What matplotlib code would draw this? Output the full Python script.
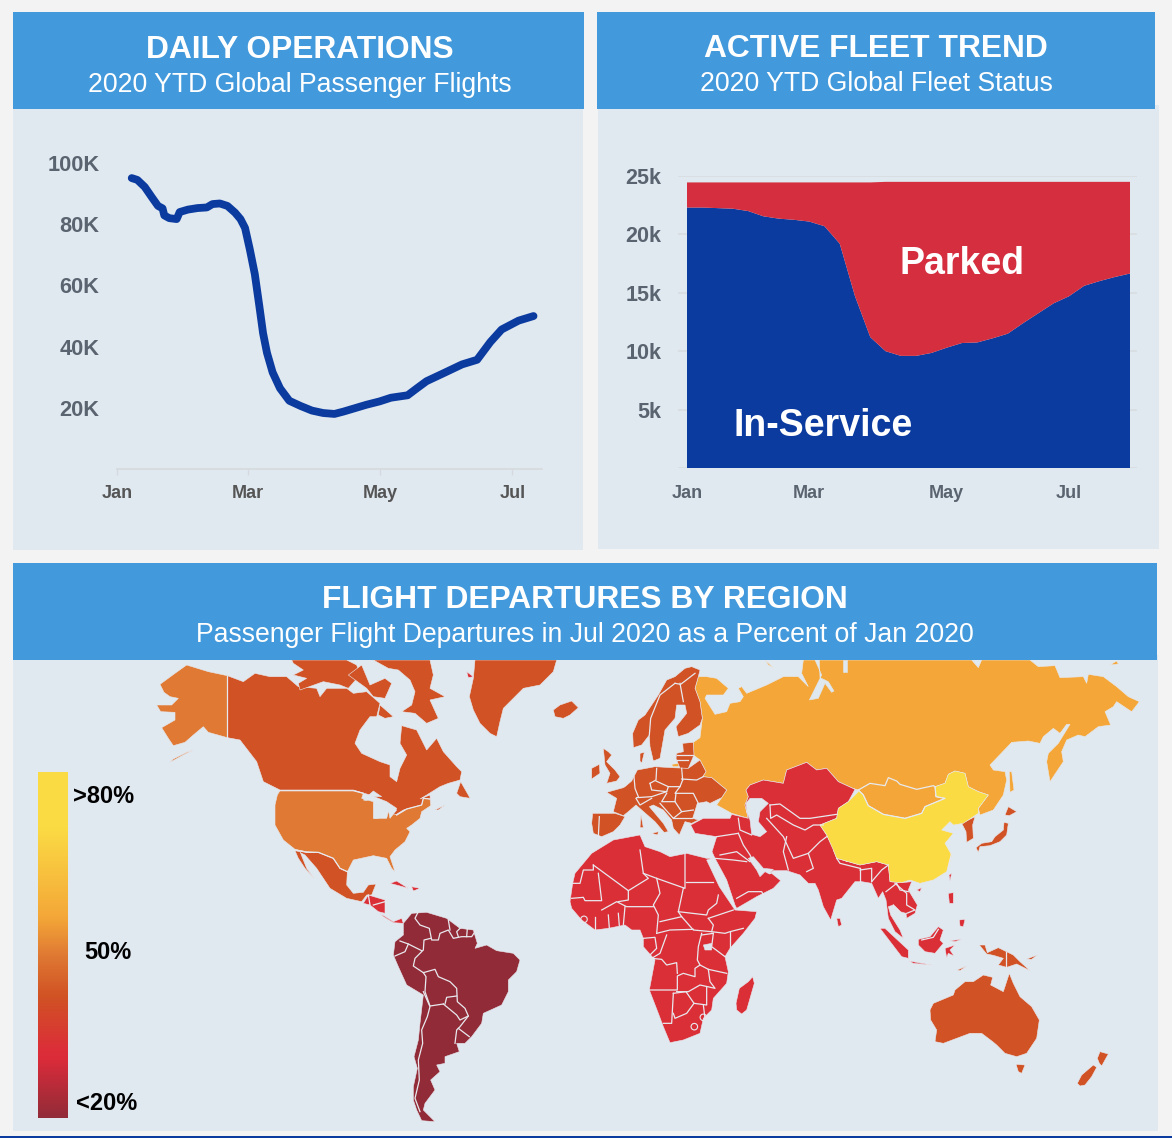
import numpy as np
import matplotlib
matplotlib.use('Agg')
import matplotlib.pyplot as plt
from matplotlib.colors import LinearSegmentedColormap

plt.rcParams['font.family'] = ['Liberation Sans', 'DejaVu Sans']

W, H = 1172, 1138

# daily flights
flight_days = [6.6, 9.2, 12.6, 16, 18.7, 20.8, 21.6, 23.9, 27.3, 28.7, 32.5, 36.9, 41.2, 43.8, 47.2, 50.7,
               54.2, 56.7, 58.8, 61, 63.3, 65.4, 67.1, 68.9, 71.5, 74.9, 79.2, 84.4, 89.6, 94.8, 100, 104.3,
               109.5, 114.7, 120.8, 126, 133.7, 138, 142.4, 150.2, 158.8, 165.7, 171.8, 177, 184.8, 191.7]
flights = [95.1, 94.5, 92.2, 88.7, 86, 85.2, 82.9, 82, 81.7, 84, 84.8, 85.3, 85.5, 86.6, 86.8, 86,
           83.8, 81.7, 78.8, 71.8, 63.7, 53.2, 44.4, 38, 31.6, 26.4, 22.3, 20.6, 19.1, 18.3, 18, 18.8,
           19.9, 21, 22.1, 23.3, 24.1, 26.4, 28.7, 31.3, 34.2, 35.7, 41.5, 45.6, 48.5, 50]
flight_ticks = [20, 40, 60, 80, 100]
flight_tick_labels = ['20K', '40K', '60K', '80K', '100K']
month_labels = ['Jan', 'Mar', 'May', 'Jul']
month_days = [0, 60, 121, 182]

# fleet by week
weeks = list(range(30))
in_service = [22.3, 22.3, 22.25, 22.2, 22.0, 21.55, 21.35, 21.25, 21.1, 20.7, 19.2, 14.7, 11.2, 10.0, 9.6,
              9.6, 9.85, 10.3, 10.7, 10.75, 11.1, 11.5, 12.4, 13.25, 14.1, 14.7, 15.6, 16.0, 16.35, 16.65]
parked = [2.15, 2.15, 2.2, 2.25, 2.45, 2.9, 3.1, 3.2, 3.35, 3.75, 5.25, 9.75, 13.25, 14.5, 14.9,
          14.9, 14.65, 14.2, 13.8, 13.75, 13.4, 13.0, 12.1, 11.25, 10.4, 9.8, 8.9, 8.5, 8.15, 7.85]
fleet_ticks = [0, 5, 10, 15, 20, 25]
fleet_tick_labels = ['', '5k', '10k', '15k', '20k', '25k']
month_weeks = [0, 8, 17, 25]

C_YELLOW = '#FBDB44'
C_LIGHT = '#F4A738'
C_ORANGE = '#DF7933'
C_DEEP = '#D15224'
C_RED = '#DB2F38'
C_DARK = '#922B38'
C_WATER = '#DFE7EF'
C_LINE = '#E8E9EE'


def at(ox, oy, pts):
    return [(ox + a / 3, oy + b / 3) for a, b in pts]


def z1(pts): return at(140, 655, pts)
def z2(pts): return at(340, 880, pts)
def z3(pts): return at(560, 655, pts)
def z4(pts): return at(850, 655, pts)
def z5(pts): return at(560, 850, pts)
def z6(pts): return at(800, 850, pts)


# map outlines, x/y in reference pixels
deep_shapes = [
    # canada
    z1([(262, 62), (310, 80), (345, 55), (390, 65), (440, 65), (475, 95), (530, 100), (540, 125), (560, 100),
        (620, 100), (640, 115), (680, 110), (720, 145), (710, 185), (690, 185), (660, 225), (645, 265), (665, 295),
        (720, 320), (750, 330), (750, 365), (770, 380), (780, 340), (800, 300), (780, 265), (785, 212), (830, 225),
        (860, 285), (890, 250), (910, 290), (950, 335), (965, 350), (960, 375), (925, 385), (900, 395), (860, 420),
        (840, 432), (870, 420), (872, 452), (840, 455), (790, 465), (750, 490), (770, 460), (740, 440), (690, 420),
        (640, 405), (420, 405), (400, 395), (370, 380), (350, 320), (300, 255), (262, 248)]),
    z1([(700, 15), (870, 15), (880, 60), (870, 100), (915, 125), (870, 135), (895, 190), (860, 205), (825, 175),
        (785, 170), (815, 150), (825, 110), (810, 75), (775, 45), (745, 40)]),
    z1([(720, 150), (760, 185), (735, 190), (715, 180)]),
    z1([(455, 15), (620, 15), (650, 30), (660, 60), (625, 100), (600, 90), (550, 80), (480, 105), (475, 85),
        (500, 70), (460, 60), (490, 45), (460, 25)]),
    z1([(625, 60), (665, 30), (690, 90), (735, 70), (755, 85), (735, 130), (700, 125), (680, 100)]),
    z1([(950, 415), (962, 380), (985, 420), (990, 430), (960, 425)]),
    z1([(885, 465), (915, 450), (895, 465)]),
    # greenland
    z1([(1005, 15), (1250, 15), (1240, 50), (1200, 90), (1150, 100), (1090, 160), (1080, 200), (1070, 245),
        (1050, 235), (1020, 205), (1000, 165), (988, 125), (1000, 70)]),
    # iceland
    z3([(0, 150), (35, 138), (55, 158), (30, 180), (10, 190), (-15, 185), (-20, 165)]),
    # mexico
    z1([(465, 585), (500, 592), (535, 592), (555, 600), (580, 610), (600, 640), (622, 650), (620, 690), (640, 715),
        (670, 712), (685, 690), (708, 687), (695, 720), (680, 720), (665, 740), (620, 730), (570, 700), (530, 640),
        (495, 600)]),
    z1([(465, 587), (480, 590), (500, 640), (522, 670), (495, 640), (475, 610)]),
    # scandinavia
    z3([(420, 45), (395, 35), (375, 40), (345, 65), (320, 75), (295, 120), (255, 180), (235, 195), (218, 235),
        (220, 278), (245, 270), (268, 240), (270, 275), (280, 318), (300, 310), (308, 265), (315, 225), (345, 190),
        (350, 150), (375, 150), (380, 175), (348, 215), (355, 245), (385, 235), (420, 210), (427, 190), (420, 140),
        (405, 100), (415, 65)]),
    # baltics
    z3([(368, 265), (400, 262), (402, 300), (385, 340), (360, 340), (348, 310), (350, 295), (370, 290)]),
    # uk, ireland, denmark
    z3([(130, 280), (145, 290), (155, 300), (140, 320), (165, 345), (180, 365), (170, 378), (140, 385), (150, 355),
        (135, 330)]),
    z3([(95, 340), (118, 328), (120, 355), (95, 372)]),
    z3([(240, 295), (253, 292), (245, 325), (240, 318)]),
    # iberia
    z3([(98, 475), (165, 475), (195, 485), (180, 510), (160, 530), (125, 545), (100, 535), (95, 505)]),
    # europe mainland
    z3([(195, 395), (215, 378), (232, 345), (285, 335), (335, 338), (385, 340), (420, 315), (438, 350), (428, 365),
        (455, 368), (500, 405), (485, 428), (450, 445), (440, 440), (412, 445), (398, 490), (415, 495), (395, 505),
        (375, 500), (358, 540), (340, 520), (335, 495), (310, 465), (280, 450), (268, 455), (310, 505), (325, 530),
        (312, 532), (285, 500), (245, 465), (228, 450), (205, 470), (190, 482), (160, 470), (170, 430), (140, 412),
        (190, 398)]),
    z3([(275, 535), (295, 530), (293, 540)]),
    z3([(243, 480), (250, 518), (240, 518)]),
    # japan, korea
    z4([(378, 578), (395, 565), (425, 560), (435, 545), (460, 525), (462, 502), (475, 505), (470, 540), (450, 560),
        (420, 572), (390, 575), (385, 592)]),
    z4([(475, 455), (500, 470), (478, 482), (465, 480)]),
    z4([(335, 505), (375, 485), (368, 510), (370, 550), (350, 562), (348, 530)]),
    # australia, tasmania, nz
    z6([(390, 480), (400, 460), (460, 435), (465, 420), (495, 395), (520, 395), (550, 375), (578, 382), (572, 405),
        (610, 425), (628, 370), (640, 400), (660, 440), (695, 470), (718, 510), (710, 565), (680, 610), (650, 620),
        (615, 610), (590, 585), (578, 575), (545, 550), (510, 550), (430, 580), (405, 575), (410, 540), (392, 510)]),
    z6([(648, 643), (675, 645), (665, 670), (655, 665)]),
    z6([(832, 700), (845, 675), (880, 645), (890, 652), (875, 680), (855, 705), (840, 708)]),
    z6([(892, 625), (900, 605), (925, 612), (915, 630), (905, 648), (898, 640)]),
    # new guinea and small islands
    z6([(538, 285), (555, 285), (562, 308), (595, 293), (640, 315), (660, 335), (690, 362), (650, 342), (620, 352),
        (595, 345), (610, 325), (580, 316), (560, 312)]),
    z6([(472, 360), (500, 348), (480, 362)]),
    z6([(680, 327), (712, 315), (695, 328)]),
]

orange_shapes = [
    # alaska
    z1([(262, 62), (205, 50), (140, 30), (105, 55), (60, 88), (72, 112), (90, 125), (115, 130), (95, 150), (50, 150),
        (62, 170), (105, 172), (105, 195), (65, 218), (85, 250), (100, 272), (135, 262), (160, 240), (190, 215),
        (205, 232), (262, 248)]),
    z1([(90, 322), (130, 300), (160, 285), (140, 292), (100, 312)]),
    # usa
    z1([(420, 407), (640, 407), (670, 415), (665, 430), (700, 440), (700, 490), (740, 490), (745, 470), (770, 480),
        (800, 462), (845, 450), (850, 430), (870, 432), (872, 452), (845, 470), (840, 490), (815, 510), (800, 520),
        (810, 530), (795, 560), (765, 585), (750, 605), (765, 650), (755, 640), (740, 610), (700, 602), (640, 615),
        (622, 650), (600, 640), (580, 610), (555, 600), (535, 592), (500, 590), (465, 583), (430, 555), (405, 510),
        (405, 450), (412, 420)]),
]

light_shapes = [
    # russia and mongolia
    z3([(415, 65), (440, 65), (470, 70), (505, 100), (490, 120), (440, 120), (435, 130), (465, 178), (500, 170),
        (510, 145), (540, 140), (550, 125), (535, 100), (545, 95), (560, 115), (620, 90), (670, 65), (715, 65),
        (745, 95), (725, 55), (730, 15)])
    + z4([(365, 15), (385, 38), (395, 15), (540, 15), (565, 35), (615, 32), (630, 68), (700, 65), (710, 85), (715, 58),
          (760, 65), (800, 95), (835, 125), (868, 140), (845, 170), (800, 140), (790, 155), (765, 170), (782, 210),
          (745, 215), (705, 245), (685, 240), (650, 255), (635, 290), (640, 320), (600, 380), (590, 320), (595, 295),
          (625, 265), (660, 208), (650, 208), (630, 235), (610, 220), (580, 245), (570, 265), (535, 258), (485, 262),
          (420, 330), (430, 345), (465, 350), (470, 375), (460, 420), (430, 465), (390, 480), (385, 460), (415, 420),
          (385, 410), (355, 395), (345, 355), (315, 348), (295, 358), (285, 385), (255, 395), (258, 425), (285, 430),
          (225, 455), (215, 475), (165, 490), (100, 478), (55, 452), (40, 420), (25, 405), (0, 398)])
    + z3([(885, 403), (835, 380), (800, 340), (770, 345), (740, 322), (680, 345), (670, 385), (610, 375), (570, 390),
          (558, 405), (565, 425), (555, 450), (565, 490), (515, 475), (470, 450), (485, 428), (500, 405), (455, 368),
          (428, 365), (438, 350), (420, 315), (400, 300), (400, 262), (420, 248), (427, 190), (420, 140), (405, 100)]),
    z4([(478, 350), (485, 350), (492, 405), (480, 412)]),
    z4([(780, 30), (800, 18), (805, 27)]),
    z3([(335, 328), (358, 325), (356, 335), (338, 335)]),
    z3([(615, 15), (640, 38), (625, 30)]),
]

china_shapes = [
    z4([(25, 405), (40, 420), (55, 452), (100, 478), (165, 490), (215, 475), (225, 455), (285, 430), (258, 425),
        (255, 395), (285, 385), (295, 358), (315, 348), (345, 355), (355, 395), (385, 410), (415, 420), (385, 460),
        (385, 475), (340, 505), (310, 510), (300, 500), (275, 525), (310, 535), (285, 565), (305, 600), (295, 640)])
    + z6([(455, 5), (440, 65), (400, 90), (360, 100), (330, 90), (305, 98), (270, 95), (265, 45), (230, 35), (180, 45),
          (110, 25), (100, 0)])
    + z3([(800, 540), (780, 510), (830, 490), (835, 460), (865, 440), (895, 410)]),
]

red_shapes = [
    # middle east, central and south asia, se asia
    z3([(392, 510), (430, 490), (510, 490), (515, 478), (565, 490), (555, 450), (565, 425), (558, 405), (570, 390),
        (610, 375), (670, 385), (680, 345), (740, 322), (770, 345), (800, 340), (835, 380), (885, 403), (865, 440),
        (835, 460), (830, 490), (780, 510), (800, 540), (825, 590), (860, 620)])
    + z6([(100, 0), (110, 25), (180, 45), (230, 35), (265, 45), (270, 95), (305, 98), (335, 95), (325, 120), (352, 165),
          (345, 190), (320, 205), (318, 190), (300, 185), (280, 165), (265, 170), (272, 195), (300, 240), (310, 265),
          (285, 245), (265, 205), (258, 150), (248, 125), (235, 145), (215, 100), (185, 95), (165, 95), (125, 145),
          (110, 150), (92, 210), (70, 170), (55, 120), (45, 100), (25, 100), (0, 75)])
    + z5([(720, 75), (680, 62), (640, 62), (628, 72), (635, 70), (662, 92), (640, 115), (590, 140), (530, 175),
          (525, 165), (500, 90), (465, 25), (456, 5)])
    + z3([(470, 545), (405, 535)]),
    # africa
    z3([(45, 655), (95, 595), (160, 555), (240, 540), (255, 575), (300, 590), (330, 605), (380, 595), (440, 610),
        (458, 610)])
    + z5([(440, 30), (478, 110), (525, 180), (590, 185), (585, 205), (550, 250), (510, 295), (495, 320), (505, 365),
          (500, 400), (460, 445), (455, 480), (430, 505), (420, 550), (370, 570), (330, 578), (310, 530), (295, 490),
          (268, 420), (285, 330), (250, 290), (250, 265), (240, 240), (215, 240), (195, 225), (145, 235), (105, 240),
          (65, 210), (35, 175), (30, 155), (38, 100)]),
    z5([(578, 380), (583, 400), (560, 480), (545, 492), (530, 480), (528, 460), (538, 415), (565, 395)]),
    # islands of asia
    z6([(110, 205), (120, 205), (125, 225), (115, 230)]),
    z6([(447, 75), (455, 70), (450, 92)]),
    z6([(350, 120), (365, 113), (360, 125)]),
    z6([(240, 235), (255, 235), (325, 300), (325, 325), (305, 320)]),
    z6([(327, 333), (395, 345), (340, 340)]),
    z6([(355, 268), (390, 260), (415, 230), (430, 240), (420, 270), (430, 280), (405, 310), (375, 305), (355, 285)]),
    z6([(435, 295), (465, 285), (450, 300), (462, 318), (445, 310), (440, 323)]),
    z6([(445, 130), (460, 128), (460, 160), (448, 160)]),
    z6([(478, 210), (495, 208), (490, 230), (480, 228)]),
    z6([(450, 272), (485, 268), (465, 275)]),
    # central america, caribbean, arctic bit
    z2([(70, 70), (85, 45), (135, 60), (135, 100), (115, 95), (90, 75)]),
    z2([(120, 100), (160, 125), (185, 115), (190, 130), (160, 128), (130, 110)]),
    z2([(150, 10), (170, 3), (205, 25), (180, 18)]),
    z2([(215, 20), (240, 25), (220, 33)]),
    z1([(980, 50), (1000, 65), (985, 68)]),
]

dark_shapes = [
    z2([(190, 130), (215, 100), (260, 97), (320, 115), (360, 145), (400, 150), (412, 190), (405, 205), (440, 195),
        (470, 212), (520, 220), (540, 240), (530, 275), (505, 300), (505, 335), (485, 375), (430, 400), (425, 430),
        (395, 470), (375, 490), (350, 490), (358, 515), (315, 530), (315, 550), (290, 555), (300, 575), (272, 600),
        (285, 630), (255, 670), (250, 690), (260, 700), (285, 725), (245, 722), (230, 690), (220, 660), (220, 620),
        (232, 565), (222, 530), (235, 480), (240, 430), (250, 345), (200, 315), (175, 260), (160, 225), (165, 185),
        (190, 165)]),
]

water_shapes = [
    # hudson is open, these are lakes and inland seas
    z1([(670, 435), (700, 408), (725, 425), (700, 425), (680, 437)]),
    z1([(705, 445), (735, 440), (770, 465), (750, 490), (745, 465), (725, 470), (715, 490), (702, 490)]),
    z3([(570, 430), (605, 430), (625, 445), (600, 470), (595, 500), (620, 530), (600, 545), (575, 538), (570, 495),
        (560, 470), (558, 445)]),
    z5([(565, 25), (580, 20), (610, 55), (640, 58), (628, 72), (615, 65), (600, 80), (590, 60)]),
    z5([(430, 285), (455, 280), (455, 300), (435, 300)]),
    z3([(765, 15), (785, 60), (748, 135), (775, 130), (795, 85), (815, 112), (822, 108), (805, 80), (780, 68), (778, 15)]),
    z3([(850, 15), (850, 50), (862, 50), (862, 15)]),
]

border_lines = [
    # americas
    z1([(262, 62), (262, 248)]),
    z1([(420, 407), (640, 407), (670, 415)]),
    z1([(465, 585), (500, 592), (535, 592), (555, 600), (580, 610), (600, 640), (622, 650)]),
    z1([(770, 480), (800, 462), (845, 450), (850, 430), (870, 432)]),
    z2([(235, 95), (225, 115), (240, 135), (268, 145), (275, 180), (295, 180), (300, 160), (325, 150), (340, 175),
        (365, 170), (395, 170), (405, 155)]),
    z2([(325, 120), (330, 150)]),
    z2([(360, 145), (350, 155), (355, 170)]),
    z2([(382, 145), (380, 170)]),
    z2([(272, 175), (252, 180), (250, 210), (225, 235), (220, 258), (250, 278), (285, 268), (295, 290), (330, 305),
        (350, 325), (352, 365), (375, 385), (385, 408), (360, 440), (350, 450), (345, 490)]),
    z2([(355, 445), (388, 470)]),
    z2([(180, 183), (205, 192), (245, 212)]),
    z2([(205, 192), (195, 215), (165, 228)]),
    z2([(250, 278), (258, 290), (255, 335), (270, 378), (310, 372)]),
    z2([(250, 335), (270, 380), (262, 410), (245, 450), (248, 490), (235, 540), (238, 600), (225, 655), (240, 695)]),
    z2([(310, 372), (350, 405), (360, 420), (385, 408)]),
    z2([(315, 372), (320, 352), (350, 348)]),
    z2([(85, 45), (90, 75)]),
    z2([(100, 75), (135, 65)]),
    # europe
    z3([(345, 85), (300, 120), (272, 190), (268, 240)]),
    z3([(360, 85), (370, 140)]),
    z3([(345, 85), (362, 88), (405, 55)]),
    z3([(222, 365), (225, 400), (235, 425)]),
    z3([(290, 340), (288, 375), (270, 385)]),
    z3([(365, 340), (368, 375)]),
    z3([(288, 378), (325, 395), (360, 395), (368, 375)]),
    z3([(365, 372), (410, 375), (430, 365)]),
    z3([(270, 385), (275, 405), (320, 410), (325, 395)]),
    z3([(230, 428), (275, 425), (320, 410)]),
    z3([(360, 395), (345, 415), (400, 415), (415, 445)]),
    z3([(320, 415), (305, 440), (345, 440), (348, 415)]),
    z3([(345, 440), (365, 470), (400, 465)]),
    z3([(300, 445), (340, 490), (365, 470)]),
    z3([(340, 490), (395, 490)]),
    z3([(118, 485), (115, 545)]),
    z3([(228, 430), (240, 450), (275, 430)]),
    z3([(350, 300), (400, 300)]),
    z3([(350, 315), (385, 315)]),
    # asia
    z3([(630, 450), (660, 447), (720, 490), (750, 490), (830, 478)]),
    z3([(630, 450), (632, 490), (650, 480), (700, 510), (735, 525), (760, 510), (790, 510)]),
    z3([(620, 490), (670, 545), (700, 610), (745, 595), (780, 560), (800, 545)]),
    z3([(535, 490), (540, 525), (575, 540)]),
    z3([(470, 545), (535, 535)]),
    z3([(535, 535), (550, 570), (570, 600), (590, 640)]),
    z3([(680, 545), (670, 590), (685, 645)]),
    z3([(745, 595), (760, 640), (740, 650)]),
    z3([(480, 600), (530, 590), (570, 620)]),
    z5([(465, 25), (520, 30), (560, 35)]),
    z5([(530, 145), (565, 125), (605, 125), (610, 135)]),
    z6([(110, 25), (120, 40), (180, 55)]),
    z6([(180, 55), (180, 95)]),
    z6([(180, 60), (215, 55), (215, 95)]),
    z6([(215, 95), (245, 60), (265, 45)]),
    z6([(258, 125), (290, 100), (300, 120), (325, 125)]),
    z6([(285, 100), (320, 130), (320, 165), (345, 180), (320, 190)]),
    z6([(280, 165), (300, 185)]),
    z6([(365, 270), (400, 262), (415, 238)]),
    z6([(619, 305), (619, 352)]),
    z4([(25, 405), (60, 385), (105, 392), (115, 368), (140, 378), (150, 388), (200, 403), (250, 392), (255, 395)]),
    z4([(25, 405), (40, 420), (55, 452), (100, 478), (165, 490), (215, 475), (225, 455), (285, 430), (258, 425),
        (255, 395)]),
    # africa
    z5([(35, 100), (60, 100), (70, 60), (100, 60), (100, 45)]),
    z5([(100, 45), (205, 122), (205, 150), (175, 155)]),
    z5([(115, 70), (125, 152), (75, 152), (70, 142), (35, 145)]),
    z5([(240, 0), (250, 70), (265, 85), (205, 122)]),
    z5([(250, 70), (290, 85), (375, 115), (375, 10)]),
    z5([(378, 95), (460, 95)]),
    z5([(290, 85), (300, 130), (280, 165), (295, 195), (290, 250)]),
    z5([(370, 115), (355, 185), (365, 200), (300, 215)]),
    z5([(355, 185), (440, 195), (445, 180), (470, 160), (475, 135)]),
    z5([(365, 200), (400, 240), (455, 245), (495, 250), (510, 245), (550, 235)]),
    z5([(445, 205), (490, 190), (520, 180)]),
    z5([(445, 205), (460, 225), (455, 245)]),
    z5([(510, 245), (510, 290)]),
    z5([(125, 180), (170, 155), (200, 170), (280, 170)]),
    z5([(195, 170), (190, 225)]),
    z5([(145, 195), (148, 235)]),
    z5([(175, 190), (178, 228)]),
    z5([(105, 200), (105, 240)]),
    z5([(290, 250), (330, 240), (400, 238)]),
    z5([(250, 265), (285, 262), (290, 295), (270, 315)]),
    z5([(320, 255), (300, 310), (275, 325), (305, 328), (320, 345), (350, 338), (352, 370)]),
    z5([(425, 250), (415, 290), (412, 330), (420, 345), (405, 355), (405, 380), (370, 370), (352, 378), (352, 420),
        (268, 420)]),
    z5([(425, 255), (460, 250)]),
    z5([(460, 250), (455, 290), (495, 320)]),
    z5([(420, 345), (445, 358), (450, 395), (465, 415), (420, 405), (385, 425), (350, 425)]),
    z5([(445, 358), (500, 370)]),
    z5([(340, 430), (335, 520), (310, 520)]),
    z5([(340, 430), (378, 425), (402, 460), (440, 465), (440, 410)]),
    z5([(340, 490), (345, 505), (380, 490), (402, 460)]),
    z5([(430, 465), (435, 505)]),
]
enclaves = z5([(403, 530), (72, 208), (430, 502)])

legend_colors = [(0.0, C_YELLOW), (0.16, C_YELLOW), (0.42, C_LIGHT), (0.53, C_ORANGE), (0.65, C_DEEP),
                 (0.80, C_RED), (0.83, '#DB2B3A'), (1.0, C_DARK)]
legend_labels = ['>80%', '50%', '<20%']

fig = plt.figure(figsize=(W / 100, H / 100), dpi=100, facecolor='#F3F3F3')


def axes_px(l, t, r, b):
    return fig.add_axes([l / W, 1 - b / H, (r - l) / W, (b - t) / H])


page = fig.add_axes([0, 0, 1, 1])
page.set_xlim(0, W)
page.set_ylim(H, 0)
page.axis('off')

PANEL = '#E0E8F0'
HEADER = '#4299DB'
for x0, x1, y0, y1 in [(13, 583, 105, 550), (598, 1159, 105, 549), (13, 1158, 655, 1131)]:
    page.fill([x0, x1, x1, x0], [y0, y0, y1, y1], color=PANEL, lw=0, zorder=1)

for shapes, col in [(light_shapes, C_LIGHT), (deep_shapes, C_DEEP), (orange_shapes, C_ORANGE), (red_shapes, C_RED),
                    (dark_shapes, C_DARK), (china_shapes, C_YELLOW), (water_shapes, C_WATER)]:
    for s in shapes:
        xs, ys = zip(*s)
        page.fill(xs, ys, facecolor=col, edgecolor=C_LINE if col != C_WATER else C_WATER, lw=0.4, zorder=2)

for line in border_lines:
    xs, ys = zip(*line)
    page.plot(xs, ys, color=C_LINE, lw=0.9, zorder=3)
page.scatter(*zip(*enclaves), s=22, facecolor='none', edgecolor=C_LINE, lw=0.8, zorder=3)

# headers go over the map so greenland and russia get cut flat
for x0, x1, y0, y1 in [(13, 584, 12, 109), (597, 1155, 12, 109), (13, 1157, 563, 660)]:
    page.fill([x0, x1, x1, x0], [y0, y0, y1, y1], color=HEADER, lw=0, zorder=4)

page.fill([0, W, W, 0], [1136, 1136, H, H], color='#0B3B9F', lw=0, zorder=4)

for x, y, t in [(300, 49.5, 'DAILY OPERATIONS'), (876, 48.5, 'ACTIVE FLEET TREND'), (585, 599.5, 'FLIGHT DEPARTURES BY REGION')]:
    page.text(x, y, t, color='white', fontsize=22.9, fontweight='bold', ha='center', va='center', zorder=5)
for x, y, t in [(299.5, 84.5, '2020 YTD Global Passenger Flights'), (876, 83.5, '2020 YTD Global Fleet Status'),
                (585, 634.5, 'Passenger Flight Departures in Jul 2020 as a Percent of Jan 2020')]:
    page.text(x, y, t, color='white', fontsize=19.15, ha='center', va='center', zorder=5)

# line chart
ax1 = axes_px(117.4, 147.8, 542, 469)
ax1.patch.set_alpha(0)
ax1.plot(flight_days, flights, color='#0B3B9F', lw=5.6, solid_capstyle='round', solid_joinstyle='round')
ax1.set_xlim(0, 195.6)
ax1.set_ylim(0, 105)
ax1.set_xticks(month_days, month_labels, fontsize=13, fontweight='bold', color='#555555')
ax1.set_yticks(flight_ticks, flight_tick_labels, fontsize=15.7, fontweight='bold', color='#5A6470')
ax1.tick_params(axis='x', length=4, width=1, color='#D6DADF', pad=7.4)
ax1.tick_params(axis='y', length=0, pad=13)
for s in ['top', 'right', 'left']:
    ax1.spines[s].set_visible(False)
ax1.spines['bottom'].set_color('#D6DADF')
ax1.spines['bottom'].set_linewidth(1.2)

# stacked area
ax2 = axes_px(678, 176, 1137, 468)
ax2.patch.set_alpha(0)
ax2.stackplot(weeks, in_service, parked, colors=['#0B3B9F', '#D52E3E'], zorder=3)
ax2.set_xlim(-9 / 15.276, 29 + 7 / 15.276)
ax2.set_ylim(0, 25)
ax2.set_xticks(month_weeks, month_labels, fontsize=13, fontweight='bold', color='#5A6470')
ax2.set_yticks(fleet_ticks, fleet_tick_labels, fontsize=15.5, fontweight='bold', color='#5A6470')
ax2.tick_params(axis='both', length=0)
ax2.tick_params(axis='x', pad=12.4)
ax2.tick_params(axis='y', pad=12)
ax2.grid(axis='y', color='#D8DCE1', lw=1.2, zorder=1)
ax2.set_axisbelow(True)
for s in ax2.spines.values():
    s.set_visible(False)
ax2.text(18.0, 17.5, 'Parked', color='white', fontsize=27, fontweight='bold', ha='center', va='center', zorder=5)
ax2.text(8.9, 3.6, 'In-Service', color='white', fontsize=27, fontweight='bold', ha='center', va='center', zorder=5)

# colour legend
ax3 = axes_px(38, 772, 68, 1118)
cmap = LinearSegmentedColormap.from_list('departures', legend_colors)
ax3.imshow(np.linspace(0, 1, 256).reshape(-1, 1), cmap=cmap, aspect='auto')
ax3.axis('off')
for x, y, t in zip([103.5, 107.5, 106.5], [796, 952, 1103], legend_labels):
    page.text(x, y, t, color='black', fontsize=17, fontweight='bold', ha='center', va='center', zorder=5)

fig.savefig('out.png', dpi=100, facecolor=fig.get_facecolor())
